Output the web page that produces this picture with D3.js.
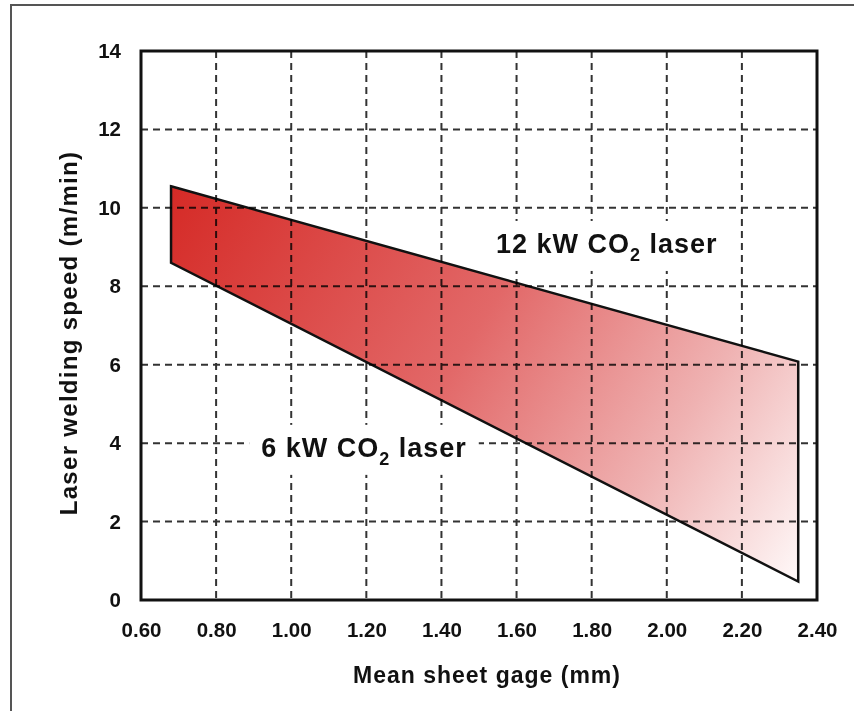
<!DOCTYPE html>
<html>
<head>
<meta charset="utf-8">
<script src="https://cdn.jsdelivr.net/npm/d3@7"></script>
<style>
  body { margin: 0; background: #fff; }
  text { font-family: "Liberation Sans", Arial, sans-serif; font-weight: bold; fill: #111; }
</style>
</head>
<body>
<div class="chart"></div>
<script>
// data
const xTicks = [0.6, 0.8, 1.0, 1.2, 1.4, 1.6, 1.8, 2.0, 2.2, 2.4];
const yTicks = [0, 2, 4, 6, 8, 10, 12, 14];
// envelope of laser welding speed
const upper12kW = [{ x: 0.68, y: 10.55 }, { x: 2.35, y: 6.08 }];
const lower6kW = [{ x: 0.68, y: 8.6 }, { x: 2.35, y: 0.47 }];
const labels = [
    { text: "12 kW CO", sub: "2", tail: " laser", x: 1.545, y: 8.85 },
    { text: "6 kW CO", sub: "2", tail: " laser", x: 0.92, y: 3.65 }
];

const width = 854;
const height = 711;

let svg = d3.select(".chart").append("svg")
    .attr("width", width)
    .attr("height", height);

// outer frame (top and left only)
svg.append("path")
    .attr("d", "M11,711 L11,5 L854,5")
    .attr("fill", "none")
    .attr("stroke", "#555")
    .attr("stroke-width", 2);

let xScale = d3.scaleLinear().domain([0.6, 2.4]).range([141, 817]);
let yScale = d3.scaleLinear().domain([0, 14]).range([600, 51]);

// gradient fill, red top-left to white bottom-right
let grad = svg.append("defs").append("linearGradient")
    .attr("id", "fade")
    .attr("gradientUnits", "userSpaceOnUse")
    .attr("x1", xScale(0.68)).attr("y1", yScale(10.6))
    .attr("x2", xScale(2.35)).attr("y2", yScale(0.3));
grad.append("stop").attr("offset", 0).attr("stop-color", "#d52a26");
grad.append("stop").attr("offset", 0.45).attr("stop-color", "#e26868");
grad.append("stop").attr("offset", 0.75).attr("stop-color", "#efb2b2");
grad.append("stop").attr("offset", 1).attr("stop-color", "#fffafa");

let band = upper12kW.concat(lower6kW.slice().reverse());
svg.append("polygon")
    .attr("points", band.map(d => xScale(d.x) + "," + yScale(d.y)).join(" "))
    .attr("fill", "url(#fade)")
    .attr("stroke", "#111")
    .attr("stroke-width", 2.5)
    .attr("stroke-linejoin", "miter");

// dashed grid, multiplied so it turns dark red over the band
let grid = svg.append("g").style("mix-blend-mode", "multiply");
grid.selectAll(".vgrid")
    .data(xTicks.slice(1, -1))
    .enter().append("line")
    .attr("x1", d => xScale(d)).attr("x2", d => xScale(d))
    .attr("y1", yScale(14)).attr("y2", yScale(0));
grid.selectAll(".hgrid")
    .data(yTicks.slice(1, -1))
    .enter().append("line")
    .attr("x1", xScale(0.6)).attr("x2", xScale(2.4))
    .attr("y1", d => yScale(d)).attr("y2", d => yScale(d));
grid.selectAll("line")
    .attr("stroke", "#333")
    .attr("stroke-width", 2)
    .attr("stroke-dasharray", "7,5");

// plot box
svg.append("rect")
    .attr("x", xScale(0.6)).attr("y", yScale(14))
    .attr("width", xScale(2.4) - xScale(0.6))
    .attr("height", yScale(0) - yScale(14))
    .attr("fill", "none")
    .attr("stroke", "#111")
    .attr("stroke-width", 3);

// tick labels via axes
let xAxis = d3.axisBottom(xScale).tickValues(xTicks).tickFormat(d3.format(".2f")).tickSize(0).tickPadding(22);
let yAxis = d3.axisLeft(yScale).tickValues(yTicks).tickFormat(d3.format("d")).tickSize(0).tickPadding(20);

svg.append("g")
    .attr("transform", "translate(0," + yScale(0) + ")")
    .call(xAxis)
    .call(g => g.select(".domain").remove())
    .selectAll("text")
    .style("font-size", "20.5px")
    .attr("fill", "#111");
svg.append("g")
    .attr("transform", "translate(" + xScale(0.6) + ",0)")
    .call(yAxis)
    .call(g => g.select(".domain").remove())
    .selectAll("text")
    .style("font-size", "20.5px")
    .attr("fill", "#111");

// axis titles
svg.append("text")
    .attr("text-anchor", "middle")
    .attr("transform", "translate(77," + 333 + ")rotate(-90)")
    .style("font-size", "24px")
    .style("letter-spacing", "1.3px")
    .text("Laser welding speed (m/min)");
svg.append("text")
    .attr("text-anchor", "middle")
    .attr("x", 487).attr("y", 683)
    .style("font-size", "23px")
    .style("letter-spacing", "1px")
    .text("Mean sheet gage (mm)");

// band annotations, on a white patch that breaks the grid
labels.forEach(l => {
    let g = svg.append("g");
    let t = g.append("text")
        .attr("x", xScale(l.x)).attr("y", yScale(l.y))
        .style("font-size", "27px")
        .style("letter-spacing", "1px");
    t.append("tspan").text(l.text);
    t.append("tspan").attr("dy", 8).style("font-size", "18px").text(l.sub);
    t.append("tspan").attr("dy", -8).text(l.tail);
    let b = t.node().getBBox();
    g.insert("rect", "text")
        .attr("x", b.x - 12).attr("y", b.y - 8)
        .attr("width", b.width + 24).attr("height", b.height + 14)
        .attr("fill", "#fff");
});
</script>
</body>
</html>
